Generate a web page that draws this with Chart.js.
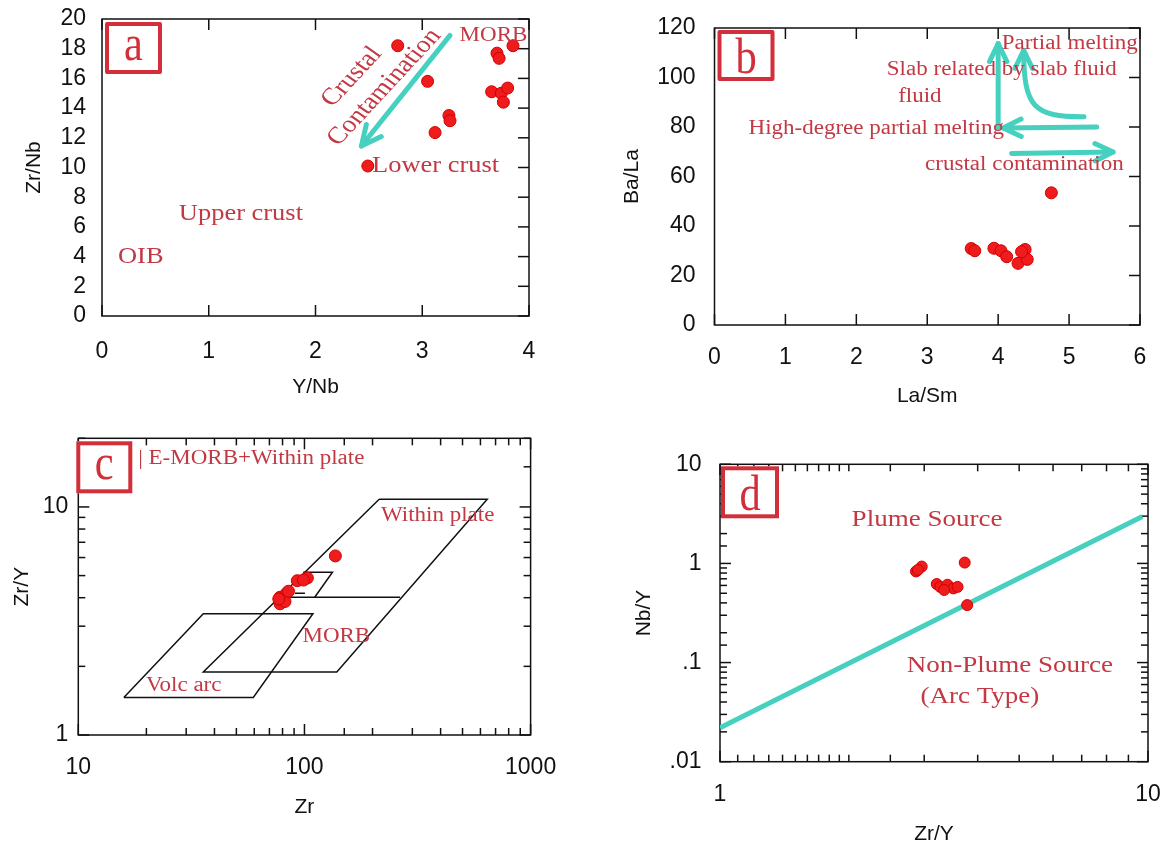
<!DOCTYPE html>
<html>
<head>
<meta charset="utf-8">
<title>Discrimination diagrams</title>
<script src="https://cdn.jsdelivr.net/npm/chart.js@4.4.1/dist/chart.umd.min.js"></script>
<style>
  html, body { margin: 0; padding: 0; background: #fff; }
  #page { position: relative; width: 1163px; height: 847px; overflow: hidden; }
  .panel { position: absolute; }
</style>
</head>
<body>
<div id="page">
  <div class="panel" style="left:0;top:0;width:580px;height:420px"><canvas id="chartA"></canvas></div>
  <div class="panel" style="left:580px;top:0;width:583px;height:420px"><canvas id="chartB"></canvas></div>
  <div class="panel" style="left:0;top:420px;width:580px;height:427px"><canvas id="chartC"></canvas></div>
  <div class="panel" style="left:580px;top:420px;width:583px;height:427px"><canvas id="chartD"></canvas></div>
</div>
<script>
//---------------------------------------------- DATA ----------------------------------------------
// (a) Y/Nb vs Zr/Nb
const aYNb = [2.77, 3.05, 3.12, 3.25, 3.26, 2.49, 3.70, 3.72, 3.85, 3.65, 3.74, 3.80, 3.76];
const aZrNb = [18.2, 15.8, 12.35, 13.5, 13.15, 10.1, 17.7, 17.35, 18.2, 15.1, 15.0, 15.35, 14.4];

// (b) La/Sm vs Ba/La
const bLaSm = [3.62, 3.67, 3.94, 4.04, 4.12, 4.28, 4.38, 4.41, 4.33, 4.75];
const bBaLa = [30.9, 30.0, 31.0, 30.0, 27.6, 24.9, 30.5, 26.5, 29.6, 53.4];

// (c) Zr vs Zr/Y (log-log) + field boundaries
const cZr = [137, 93, 103, 99, 78, 83, 78, 82, 77, 85];
const cZrY = [6.1, 4.75, 4.88, 4.78, 4.02, 4.16, 3.76, 3.85, 3.95, 4.27];
const withinPlateZr = [214, 643, 139, 35.7, 214];
const withinPlateZrY = [10.8, 10.8, 1.89, 1.89, 10.8];
const morbTopZr = [77.5, 265];
const morbTopZrY = [4.02, 4.02];
const eMorbZr = [98.8, 133, 111];
const eMorbZrY = [5.17, 5.17, 4.02];
const eMorbStubZr = [90.8, 100.5];
const eMorbStubZrY = [4.18, 4.18];
const volcArcZr = [15.9, 59.4, 109, 35.7, 15.9];
const volcArcZrY = [1.46, 1.46, 3.40, 3.40, 1.46];

// (d) Zr/Y vs Nb/Y (log-log) + plume / non-plume divide
const dZrY = [2.87, 2.96, 2.90, 3.73, 3.21, 3.27, 3.40, 3.51, 3.59, 3.34, 3.78];
const dNbY = [0.83, 0.93, 0.86, 1.02, 0.62, 0.58, 0.61, 0.56, 0.58, 0.54, 0.38];
const dLineZrY = [1, 9.7];
const dLineNbY = [0.022, 2.97];

// tick labels for the log axes
const cXLabels = ["10", "100", "1000"];
const cYLabels = ["1", "10"];
const dXLabels = ["1", "10"];
const dYLabels = [".01", ".1", "1", "10"];

//---------------------------------------------- STYLE ----------------------------------------------
const SERIF = '"Liberation Serif", "Times New Roman", serif';
const SANS = '"Liberation Sans", Arial, sans-serif';
const NOTE_RED = "#c23843";
const BOX_RED = "#d22f3a";
const TEAL = "#45d0c0";
const DOT_RED = "#ee1c1c";

const zip = (xs, ys) => xs.map((x, i) => ({ x: x, y: ys[i] }));
const isDecade = (v) => Math.abs(Math.log10(v) - Math.round(Math.log10(v))) < 1e-6;
const decadeLabel = (labels) => (v) => {
  if (!isDecade(v)) return "";
  const s = v >= 1 ? String(Math.round(v)) : String(v).replace(/^0/, "");
  return labels.includes(s) ? s : "";
};

// frame, inward ticks, arrows, red notes and the lettered box
const panelDecor = {
  id: "panelDecor",
  beforeDatasetsDraw(chart, args, opts) {
    const { ctx, chartArea: ca, scales } = chart;
    ctx.save();
    ctx.strokeStyle = "#111";
    ctx.lineWidth = 1.5;
    ctx.strokeRect(ca.left, ca.top, ca.right - ca.left, ca.bottom - ca.top);
    const sides = opts.sides || [];
    const mark = (scale, side) => {
      scale.ticks.forEach((t) => {
        const p = scale.getPixelForValue(t.value);
        const len = scale.type === "logarithmic" && !isDecade(t.value) ? 7 : 11;
        ctx.beginPath();
        if (side === "bottom") { ctx.moveTo(p, ca.bottom); ctx.lineTo(p, ca.bottom - len); }
        if (side === "top") { ctx.moveTo(p, ca.top); ctx.lineTo(p, ca.top + len); }
        if (side === "left") { ctx.moveTo(ca.left, p); ctx.lineTo(ca.left + len, p); }
        if (side === "right") { ctx.moveTo(ca.right, p); ctx.lineTo(ca.right - len, p); }
        ctx.stroke();
      });
    };
    sides.forEach((s) => mark(s === "top" || s === "bottom" ? scales.x : scales.y, s));
    ctx.restore();
  },
  afterDatasetsDraw(chart, args, opts) {
    const { ctx, chartArea: ca, scales } = chart;
    const px = (q) => [scales.x.getPixelForValue(q[0]), scales.y.getPixelForValue(q[1])];
    ctx.save();
    (opts.arrows || []).forEach((a) => {
      const p = a.pts.map(px);
      ctx.strokeStyle = TEAL;
      ctx.lineWidth = a.w || 5;
      ctx.lineCap = "round";
      ctx.lineJoin = "round";
      ctx.beginPath();
      ctx.moveTo(p[0][0], p[0][1]);
      if (p.length === 4) ctx.bezierCurveTo(p[1][0], p[1][1], p[2][0], p[2][1], p[3][0], p[3][1]);
      else ctx.lineTo(p[1][0], p[1][1]);
      ctx.stroke();
      const tip = p[p.length - 1], prev = p[p.length - 2];
      const ang = Math.atan2(tip[1] - prev[1], tip[0] - prev[0]);
      const L = a.head || 20, w = 0.45;
      ctx.beginPath();
      ctx.moveTo(tip[0] - L * Math.cos(ang - w), tip[1] - L * Math.sin(ang - w));
      ctx.lineTo(tip[0], tip[1]);
      ctx.lineTo(tip[0] - L * Math.cos(ang + w), tip[1] - L * Math.sin(ang + w));
      ctx.stroke();
    });
    (opts.notes || []).forEach((n) => {
      const p = px([n.x, n.y]);
      ctx.save();
      ctx.translate(p[0], p[1]);
      ctx.scale(1.15, 1);
      if (n.rot) ctx.rotate((n.rot * Math.PI) / 180);
      ctx.font = n.size + "px " + SERIF;
      ctx.fillStyle = NOTE_RED;
      ctx.textAlign = n.align || "left";
      ctx.textBaseline = "middle";
      ctx.fillText(n.t, 0, 0);
      ctx.restore();
    });
    const L = opts.letter;
    if (L) {
      const bx = ca.left + L.dx, by = ca.top + L.dy;
      ctx.fillStyle = "#fff";
      ctx.fillRect(bx, by, L.w, L.h);
      ctx.strokeStyle = BOX_RED;
      ctx.lineWidth = 4;
      ctx.strokeRect(bx + 2, by + 2, L.w - 4, L.h - 4);
      ctx.font = "50px " + SERIF;
      const m = ctx.measureText(L.t);
      const gh = m.actualBoundingBoxAscent + m.actualBoundingBoxDescent;
      ctx.translate(bx + L.w / 2, by + L.h / 2 + m.actualBoundingBoxAscent - gh / 2);
      ctx.scale(0.85, 1);
      ctx.fillStyle = BOX_RED;
      ctx.textAlign = "center";
      ctx.textBaseline = "alphabetic";
      ctx.fillText(L.t, 0, 0);
    }
    ctx.restore();
  },
};

function axis(o) {
  const a = {
    type: o.type || "linear",
    min: o.min,
    max: o.max,
    grid: { display: false, drawTicks: false },
    border: { display: false },
    ticks: {
      color: "#111",
      font: { family: SANS, size: 23 },
      padding: o.pad,
      autoSkip: false,
      maxRotation: 0,
    },
    title: {
      display: true,
      text: o.title,
      color: "#111",
      font: { family: SANS, size: 21 },
      padding: o.titlePad,
    },
    afterFit(scale) {
      // fixed axis box; label overhang must not move the plot frame
      if (scale.isHorizontal()) scale.height = o.size;
      else scale.width = o.size;
      scale.paddingTop = 0;
      scale.paddingBottom = 0;
      scale.paddingLeft = 0;
      scale.paddingRight = 0;
    },
  };
  if (o.step) a.ticks.stepSize = o.step;
  if (o.cb) a.ticks.callback = o.cb;
  return a;
}

function dots(xs, ys, r) {
  return {
    type: "scatter",
    data: zip(xs, ys),
    backgroundColor: DOT_RED,
    borderColor: "#d40000",
    borderWidth: 1,
    pointRadius: r,
    pointHoverRadius: r,
  };
}

function outline(xs, ys) {
  return {
    type: "scatter",
    data: zip(xs, ys),
    showLine: true,
    borderColor: "#111",
    borderWidth: 1.5,
    pointRadius: 0,
    tension: 0,
    fill: false,
  };
}

function makeChart(id, datasets, scales, padding, decor) {
  return new Chart(document.getElementById(id), {
    type: "scatter",
    data: { datasets: datasets },
    options: {
      responsive: true,
      maintainAspectRatio: false,
      animation: false,
      layout: { padding: padding },
      plugins: { legend: { display: false }, tooltip: { enabled: false }, panelDecor: decor },
      scales: scales,
    },
    plugins: [panelDecor],
  });
}

//---------------------------------------------- PANEL A ----------------------------------------------
makeChart(
  "chartA",
  [dots(aYNb, aZrNb, 6)],
  {
    x: axis({ min: 0, max: 4, step: 1, title: "Y/Nb", pad: 22, titlePad: { top: 0, bottom: 20 }, size: 104 }),
    y: axis({ min: 0, max: 20, step: 2, title: "Zr/Nb", pad: 16, titlePad: { top: 22, bottom: 0 }, size: 102 }),
  },
  { left: 0, top: 19, right: 51, bottom: 0 },
  {
    sides: ["top", "bottom", "right"],
    letter: { t: "a", dx: 3, dy: 3, w: 57, h: 52 },
    arrows: [{ pts: [[3.26, 18.9], [2.43, 11.45]], w: 5, head: 22 }],
    notes: [
      { t: "MORB", x: 3.35, y: 18.9, size: 20 },
      { t: "Lower crust", x: 2.53, y: 10.1, size: 23 },
      { t: "Upper crust", x: 0.72, y: 6.9, size: 23 },
      { t: "OIB", x: 0.15, y: 4.0, size: 23 },
      { t: "Crustal", x: 2.34, y: 16.1, size: 24, rot: -51, align: "center" },
      { t: "Contamination", x: 2.645, y: 15.4, size: 24, rot: -51, align: "center" },
    ],
  }
);

//---------------------------------------------- PANEL B ----------------------------------------------
makeChart(
  "chartB",
  [dots(bLaSm, bBaLa, 6)],
  {
    x: axis({ min: 0, max: 6, step: 1, title: "La/Sm", pad: 19, titlePad: { top: 0, bottom: 11 }, size: 95 }),
    y: axis({ min: 0, max: 120, step: 20, title: "Ba/La", pad: 19, titlePad: { top: 40, bottom: 0 }, size: 134.5 }),
  },
  { left: 0, top: 28, right: 23, bottom: 0 },
  {
    sides: ["top", "bottom", "right"],
    letter: { t: "b", dx: 3, dy: 2, w: 57, h: 51 },
    arrows: [
      { pts: [[4.0, 79.7], [4.0, 113.7]], w: 5, head: 20 },
      { pts: [[5.39, 80.0], [4.07, 79.6]], w: 5, head: 20 },
      { pts: [[5.21, 84.1], [4.5, 84.0], [4.36, 88.0], [4.36, 111]], w: 5, head: 20 },
      { pts: [[4.19, 69.3], [5.62, 69.9]], w: 5, head: 20 },
    ],
    notes: [
      { t: "Partial melting", x: 4.05, y: 113.7, size: 20 },
      { t: "by slab fluid", x: 4.05, y: 103.2, size: 20 },
      { t: "Slab related", x: 2.43, y: 103.2, size: 20 },
      { t: "fluid", x: 2.59, y: 92.1, size: 20 },
      { t: "High-degree partial melting", x: 0.48, y: 79.4, size: 20 },
      { t: "crustal contamination", x: 2.97, y: 64.6, size: 20 },
    ],
  }
);

//---------------------------------------------- PANEL C ----------------------------------------------
makeChart(
  "chartC",
  [
    dots(cZr, cZrY, 6),
    outline(withinPlateZr, withinPlateZrY),
    outline(morbTopZr, morbTopZrY),
    outline(eMorbZr, eMorbZrY),
    outline(eMorbStubZr, eMorbStubZrY),
    outline(volcArcZr, volcArcZrY),
  ],
  {
    x: axis({ type: "logarithmic", min: 10, max: 1000, title: "Zr", pad: 19, titlePad: { top: 0, bottom: 27 }, size: 112, cb: decadeLabel(cXLabels) }),
    y: axis({ type: "logarithmic", min: 1, max: 20, title: "Zr/Y", pad: 10, titlePad: { top: 9.5, bottom: 0 }, size: 78.3, cb: decadeLabel(cYLabels) }),
  },
  { left: 0, top: 18.3, right: 49.4, bottom: 0 },
  {
    sides: ["top", "bottom", "left", "right"],
    letter: { t: "c", dx: -2, dy: 3, w: 56, h: 52 },
    notes: [
      { t: "| E-MORB+Within plate", x: 18.4, y: 16.2, size: 20 },
      { t: "Within plate", x: 218, y: 9.13, size: 20 },
      { t: "MORB", x: 98, y: 2.69, size: 20 },
      { t: "Volc arc", x: 19.9, y: 1.65, size: 20 },
    ],
  }
);

//---------------------------------------------- PANEL D ----------------------------------------------
makeChart(
  "chartD",
  [
    dots(dZrY, dNbY, 5.5),
    {
      type: "scatter",
      data: zip(dLineZrY, dLineNbY),
      showLine: true,
      borderColor: TEAL,
      borderWidth: 5,
      pointRadius: 0,
    },
  ],
  {
    x: axis({ type: "logarithmic", min: 1, max: 10, title: "Zr/Y", pad: 19, titlePad: { top: 0, bottom: 0 }, size: 85.3, cb: decadeLabel(dXLabels) }),
    y: axis({ type: "logarithmic", min: 0.01, max: 10, title: "Nb/Y", pad: 18.5, titlePad: { top: 51.5, bottom: 0 }, size: 140, cb: decadeLabel(dYLabels) }),
  },
  { left: 0, top: 44.3, right: 15, bottom: 0 },
  {
    sides: ["top", "bottom", "left", "right"],
    letter: { t: "d", dx: 1, dy: 2, w: 58, h: 52 },
    notes: [
      { t: "Plume Source", x: 2.03, y: 2.74, size: 23.5 },
      { t: "Non-Plume Source", x: 2.73, y: 0.093, size: 23.5 },
      { t: "(Arc Type)", x: 2.94, y: 0.0453, size: 23.5 },
    ],
  }
);
</script>
</body>
</html>
